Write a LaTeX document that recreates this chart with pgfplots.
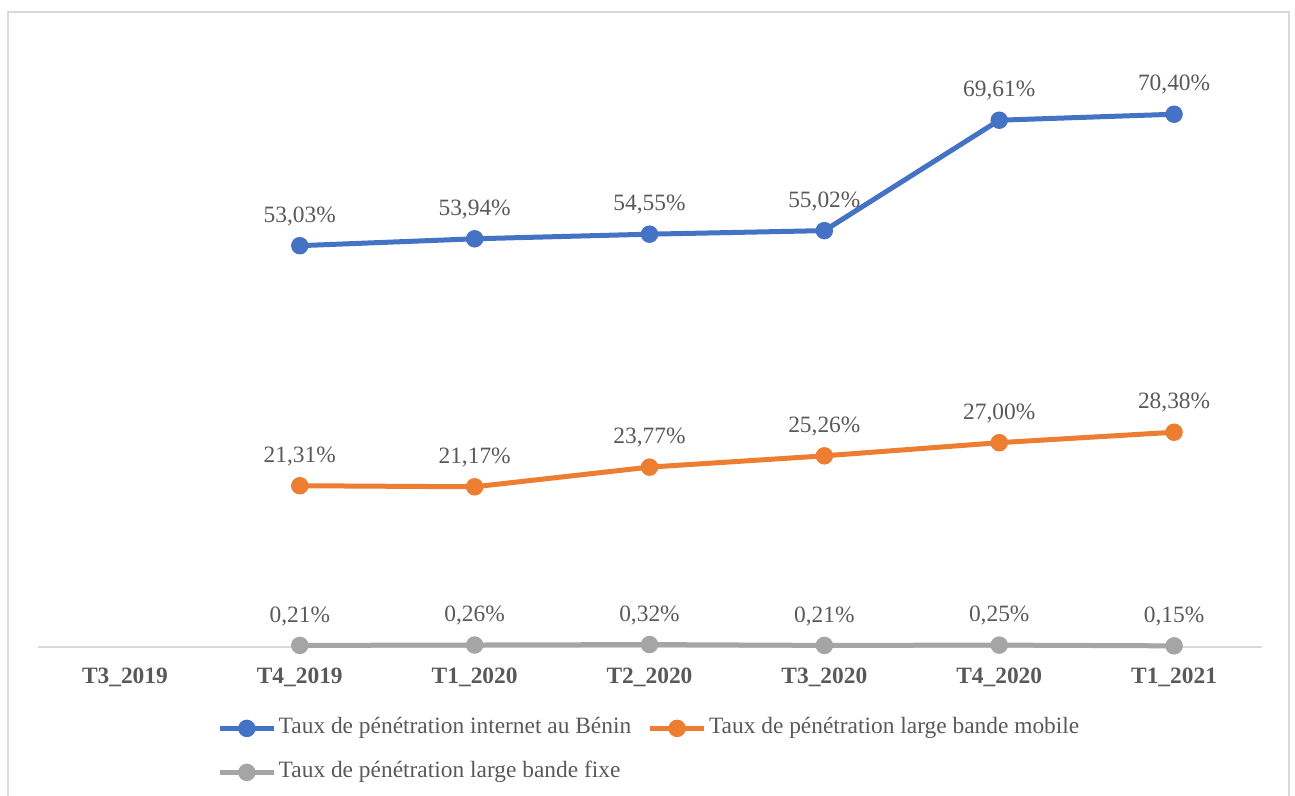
\documentclass[border=0pt]{standalone}
\usepackage{pgfplots}
\pgfplotsset{compat=1.18}
\usepackage{fontspec}
\setmainfont{Liberation Serif}

\definecolor{cblue}{HTML}{4472C4}
\definecolor{corange}{HTML}{ED7D31}
\definecolor{cgray}{HTML}{A5A5A5}
\definecolor{ctext}{HTML}{595959}
\definecolor{cline}{HTML}{D9D9D9}

\newcommand{\lblfont}{\fontsize{11.7pt}{13pt}\selectfont}

\begin{document}
\begin{tikzpicture}
\useasboundingbox (0pt,0pt) rectangle (647.5pt,398pt);
\draw[cline, line width=0.75pt] (4pt,-10pt) -- (4pt,392pt) -- (644.5pt,392pt) -- (644.5pt,-10pt);
\begin{axis}[
  at={(18.75pt,74.5pt)}, anchor=south west,
  width=612pt, height=302.7pt, scale only axis,
  xmin=-0.5, xmax=6.5, ymin=0, ymax=80,
  axis x line*=bottom, axis y line=none,
  x axis line style={draw=cline, line width=0.75pt, -},
  xtick={0,...,6},
  xticklabels={T3\_2019,T4\_2019,T1\_2020,T2\_2020,T3\_2020,T4\_2020,T1\_2021},
  xtick style={draw=none},
  xticklabel style={font=\lblfont\bfseries, text=ctext, anchor=base, yshift=-18.5pt},
  clip=false,
  point meta=y,
  /pgf/number format/use comma,
  /pgf/number format/fixed,
  /pgf/number format/fixed zerofill,
  /pgf/number format/precision=2,
  /pgf/number format/assume math mode=true,
  nodes near coords={\pgfmathprintnumber{\pgfplotspointmeta}\%},
  every node near coord/.append style={font=\lblfont, text=ctext, anchor=base, yshift=11.7pt},
  every axis plot/.append style={line width=2.5pt, mark=*, mark size=3.1pt},
  legend image code/.code={\draw[mark repeat=2,mark phase=2,#1] plot coordinates {(0pt,0pt)(13.5pt,0pt)(27pt,0pt)};},
  legend columns=2,
  legend cell align=left,
  legend style={draw=none, fill=none, inner sep=0pt, font=\lblfont, text=ctext,
    at={(0.5,0)}, anchor=north, yshift=-35.25pt,
    nodes={inner xsep=1.2pt, inner ysep=0pt, text height=8pt, text depth=2.5pt},
    /tikz/every even column/.append style={column sep=7pt},
    row sep=11.5pt},
]
\addplot[color=cblue, mark options={fill=cblue, draw=cblue}] coordinates {
  (1,53.03) (2,53.94) (3,54.55) (4,55.02) (5,69.61) (6,70.40)};
\addlegendentry{Taux de pénétration internet au Bénin}
\addplot[color=corange, mark options={fill=corange, draw=corange}] coordinates {
  (1,21.31) (2,21.17) (3,23.77) (4,25.26) (5,27.00) (6,28.38)};
\addlegendentry{Taux de pénétration large bande mobile}
\addplot[color=cgray, mark options={fill=cgray, draw=cgray}] coordinates {
  (1,0.21) (2,0.26) (3,0.32) (4,0.21) (5,0.25) (6,0.15)};
\addlegendentry{Taux de pénétration large bande fixe}
\end{axis}
\end{tikzpicture}
\end{document}
